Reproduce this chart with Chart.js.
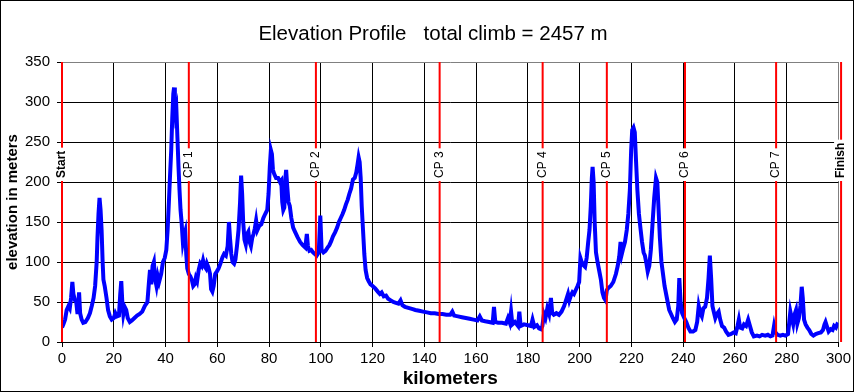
<!DOCTYPE html>
<html>
<head>
<meta charset="utf-8">
<script src="https://cdn.jsdelivr.net/npm/chart.js@4/dist/chart.umd.min.js"></script>
<style>
  body { margin: 0; background: #fff; }
</style>
</head>
<body>
<canvas id="profileChart" width="854" height="392"></canvas>
<script>
// distance along the route (km) and elevation (m)
const kms = [
  0, 0.5, 1.2, 1.8, 2.5, 3.0, 3.5, 4.0, 4.4, 5.0, 5.5, 6.0, 6.6, 7.0, 7.6, 8.2, 9.0, 10.0, 10.8, 11.5,
  12.2, 12.8, 13.4, 13.7, 14.1, 14.5, 14.9, 15.3, 15.7, 16.0, 16.5, 17.2, 17.8, 18.5, 19.2, 20.0, 20.6, 21.2, 22.0, 22.5,
  22.9, 23.3, 23.7, 24.2, 24.8, 25.4, 26.2, 27.0, 28.0, 29.0, 30.0, 31.0, 32.0, 33.0, 33.6, 34.0, 34.5, 35.0, 35.5, 35.9,
  36.5, 37.0, 37.5, 38.3, 39.0, 39.7, 40.3, 40.8, 41.3, 41.7, 42.2, 42.6, 43.0, 43.3, 43.6, 43.9, 44.2, 44.6, 45.0, 45.4,
  45.8, 46.2, 46.7, 47.1, 47.6, 48.0, 48.4, 49.0, 49.6, 50.2, 50.7, 51.2, 51.7, 52.2, 52.8, 53.4, 54.0, 54.5, 55.0, 55.6,
  56.0, 56.6, 57.2, 57.6, 58.1, 58.6, 59.2, 59.8, 60.5, 61.2, 62.0, 62.6, 63.3, 64.0, 64.5, 64.9, 65.4, 65.9, 66.5, 67.0,
  67.6, 68.2, 68.8, 69.2, 69.6, 70.0, 70.5, 71.0, 71.5, 72.0, 72.5, 73.0, 73.5, 74.0, 74.5, 75.0, 75.5, 76.2, 77.0, 77.8,
  78.5, 79.3, 79.8, 80.3, 80.7, 81.1, 81.5, 82.0, 82.7, 83.5, 84.2, 84.7, 85.1, 85.5, 85.9, 86.3, 86.6, 87.0, 87.5, 88.0,
  88.6, 89.3, 90.0, 91.0, 92.0, 93.0, 94.0, 94.6, 95.0, 95.6, 96.3, 97.0, 97.7, 98.4, 99.2, 99.8, 100.3, 101.0, 101.8, 102.6,
  103.3, 104.0, 104.7, 105.5, 106.3, 107.0, 107.7, 108.4, 109.0, 109.7, 110.4, 111.0, 111.7, 112.4, 113.1, 113.7, 114.2, 114.6, 115.0, 115.4,
  115.8, 116.3, 116.8, 117.3, 117.9, 118.5, 119.2, 120.0, 121.0, 122.0, 122.8, 123.5, 124.3, 125.2, 126.0, 127.0, 128.0, 129.0, 130.0, 130.8,
  131.5, 132.5, 133.5, 134.5, 135.5, 136.5, 138.0, 139.5, 141.0, 142.5, 144.0, 145.5, 147.0, 148.5, 150.0, 150.8, 151.5, 153.0, 154.5, 156.0,
  157.5, 159.0, 160.5, 161.4, 162.2, 163.5, 165.0, 166.4, 166.9, 167.4, 168.5, 170.0, 171.5, 172.3, 173.0, 173.5, 174.0, 175.0, 176.2, 176.7,
  177.2, 178.5, 180.0, 181.2, 181.8, 182.5, 183.5, 184.3, 185.0, 185.6, 186.2, 186.8, 187.5, 188.2, 188.9, 189.4, 190.0, 191.0, 192.0, 193.0,
  194.0, 195.0, 195.5, 196.0, 196.6, 197.2, 197.8, 198.5, 199.2, 199.8, 200.3, 200.8, 201.5, 202.1, 202.7, 203.3, 203.8, 204.3, 204.7, 205.0,
  205.4, 205.8, 206.3, 206.9, 207.5, 208.2, 208.8, 209.4, 210.0, 210.5, 211.2, 212.0, 213.0, 214.0, 214.7, 215.3, 215.8, 216.3, 216.9, 217.5,
  218.2, 218.8, 219.4, 219.9, 220.3, 220.8, 221.3, 221.8, 222.3, 222.9, 223.5, 224.1, 224.7, 225.2, 225.7, 226.3, 226.9, 227.5, 228.2, 228.8,
  229.5, 230.0, 230.5, 231.0, 231.6, 232.2, 232.8, 233.4, 234.0, 234.6, 235.3, 236.0, 236.8, 237.5, 238.1, 238.5, 239.0, 239.6, 240.4, 241.2,
  242.0, 242.8, 243.8, 244.7, 245.4, 246.0, 246.6, 247.2, 247.8, 248.5, 249.2, 249.8, 250.3, 250.8, 251.3, 251.8, 252.4, 253.0, 253.7, 254.3,
  255.0, 255.8, 256.6, 257.5, 258.5, 259.5, 260.3, 261.0, 261.5, 262.0, 262.8, 263.5, 264.3, 265.1, 265.8, 266.5, 267.3, 268.5, 269.5, 270.5,
  271.7, 272.7, 273.7, 274.5, 275.1, 275.6, 276.5, 277.5, 278.5, 279.5, 280.5, 281.0, 281.4, 281.9, 282.5, 283.1, 283.6, 284.1, 284.7, 285.3,
  285.8, 286.2, 286.7, 287.3, 288.0, 288.7, 289.5, 290.3, 291.2, 292.2, 293.2, 294.0, 294.6, 295.0, 295.5, 296.2, 297.0, 297.7, 298.3, 299.0,
  299.5, 300.0
];
const elevations = [
  18, 22, 28, 40, 45, 42, 55, 75, 60, 52, 50, 35, 62, 36, 28, 24, 25, 30, 36, 45,
  55, 70, 100, 130, 160, 180, 165, 140, 100, 78, 70, 55, 40, 32, 28, 30, 36, 32, 33, 60,
  76, 50, 35, 44, 40, 30, 25, 27, 30, 33, 35, 38, 45, 50, 75, 90, 72, 95, 100, 80,
  70, 82, 75, 85, 100, 105, 115, 140, 175, 205, 240, 280, 310, 318, 300, 285, 290, 255, 220, 190,
  165, 150, 125, 132, 138, 110, 92, 85, 82, 77, 70, 72, 80, 76, 90, 98, 95, 102, 95, 92,
  98, 93, 85, 66, 63, 70, 85, 88, 92, 98, 106, 110, 108, 120, 150, 130, 110, 100, 98, 103,
  120, 140, 175, 208, 185, 150, 128, 122, 135, 138, 125, 120, 130, 135, 142, 152, 140, 145, 147, 155,
  160, 165, 185, 220, 240, 235, 215, 210, 205, 205, 200, 202, 175, 165, 168, 205, 215, 195, 175, 170,
  155, 143, 138, 131, 125, 121, 118, 135, 120, 114, 115, 112, 110, 108, 112, 158, 115, 112, 114, 118,
  121, 126, 132, 137, 143, 150, 155, 160, 165, 172, 178, 185, 192, 203, 205, 212, 222, 231, 225, 205,
  170, 140, 110, 90, 80, 76, 72, 70, 67, 63, 60, 62, 57, 58, 54, 52, 50, 49, 48, 52,
  46, 44, 43, 42, 41, 40, 39, 38, 37, 36, 36, 35, 35, 34, 34, 38, 33, 32, 31, 30,
  29, 28, 27, 32, 27, 26, 25, 24, 44, 25, 24, 24, 23, 30, 24, 38, 22, 25, 20, 38,
  20, 22, 21, 20, 28, 19, 21, 17, 16, 20, 35, 30, 42, 35, 55, 36, 34, 36, 34, 38,
  45, 55, 60, 52, 58, 62, 60, 65, 70, 75, 105, 100, 96, 94, 105, 125, 140, 170, 205, 219,
  200, 150, 112, 100, 90, 78, 62, 55, 52, 65, 68, 70, 75, 85, 95, 107, 125, 110, 118, 125,
  140, 160, 190, 240, 265, 268, 262, 225, 190, 160, 142, 125, 112, 108, 100, 88, 95, 115, 150, 180,
  205, 200, 165, 130, 100, 85, 70, 60, 50, 40, 35, 30, 25, 28, 45, 80, 50, 36, 30, 25,
  18, 13, 13, 15, 25, 45, 36, 32, 42, 44, 55, 80, 108, 80, 45, 38, 30, 35, 38, 28,
  20, 18, 13, 9, 10, 12, 11, 20, 28, 18, 17, 22, 20, 28, 20, 12, 7, 8, 7, 9,
  8, 9, 7, 8, 20, 12, 9, 8, 9, 8, 10, 25, 38, 30, 22, 35, 40, 23, 30, 45,
  69, 55, 28, 22, 18, 15, 10, 8, 10, 11, 12, 15, 22, 25, 20, 13, 16, 15, 20, 18,
  22, 21
];

// checkpoints (red markers)
const cpKms = [0, 49, 98.1, 145.9, 185.7, 210.5, 240.7, 275.9, 301];
const cpNames = ['Start', 'CP 1', 'CP 2', 'CP 3', 'CP 4', 'CP 5', 'CP 6', 'CP 7', 'Finish'];

const titleText = 'Elevation Profile   total climb = 2457 m';
const fontFamily = "'Liberation Sans', Arial, sans-serif";

const checkpointPlugin = {
  id: 'checkpoints',
  afterDatasetsDraw(chart) {
    const { ctx, chartArea, scales } = chart;
    ctx.save();
    cpKms.forEach((km, i) => {
      const x = scales.x.getPixelForValue(km);
      ctx.strokeStyle = '#ff0000';
      ctx.lineWidth = 2;
      ctx.beginPath();
      ctx.moveTo(x, chartArea.top);
      ctx.lineTo(x, chartArea.bottom);
      ctx.stroke();

      const bold = i === 0 || i === cpNames.length - 1;
      ctx.font = (bold ? 'bold ' : '') + '12px ' + fontFamily;
      const w = ctx.measureText(cpNames[i]).width;
      const baseY = 178;
      ctx.fillStyle = '#ffffff';
      ctx.fillRect(x - 7, baseY - w - 3, 14, w + 6);
      ctx.translate(x, baseY);
      ctx.rotate(-Math.PI / 2);
      ctx.fillStyle = '#000000';
      ctx.textAlign = 'left';
      ctx.textBaseline = 'middle';
      ctx.fillText(cpNames[i], 0, 0);
      ctx.setTransform(1, 0, 0, 1, 0, 0);
    });
    ctx.restore();
  },
  afterDraw(chart) {
    const ctx = chart.ctx;
    ctx.save();
    // title, slightly left of the plot centre like the original
    ctx.fillStyle = '#000000';
    ctx.font = '20.5px ' + fontFamily;
    ctx.textAlign = 'center';
    ctx.textBaseline = 'middle';
    ctx.fillText(titleText, 433, 34);
    // outer frame
    ctx.strokeStyle = '#000000';
    ctx.lineWidth = 1;
    ctx.strokeRect(0.5, 0.5, chart.width - 1, chart.height - 1);
    ctx.restore();
  }
};

const bgPlugin = {
  id: 'bg',
  beforeDraw(chart) {
    const ctx = chart.ctx;
    ctx.save();
    ctx.fillStyle = '#ffffff';
    ctx.fillRect(0, 0, chart.width, chart.height);
    ctx.restore();
  }
};

new Chart(document.getElementById('profileChart'), {
  type: 'line',
  data: {
    datasets: [{
      data: kms.map((km, i) => ({ x: km, y: elevations[i] })),
      borderColor: '#0000ff',
      borderWidth: 4,
      pointRadius: 0,
      tension: 0,
      fill: false
    }]
  },
  options: {
    responsive: false,
    animation: false,
    devicePixelRatio: 1,
    layout: { padding: { left: 0, right: 15, top: 62, bottom: 0 } },
    plugins: {
      legend: { display: false },
      tooltip: { enabled: false },
      title: { display: false }
    },
    scales: {
      x: {
        type: 'linear',
        min: 0,
        max: 300,
        afterFit(scale) { scale.height = 50; },
        border: { color: '#000000', width: 1 },
        grid: {
          color: ctx => ctx.tick && ctx.tick.value === 300 ? '#808080' : '#000000',
          tickColor: '#000000',
          tickLength: 5
        },
        ticks: {
          stepSize: 20,
          maxRotation: 0,
          padding: 3,
          color: '#000000',
          font: { family: fontFamily, size: 15 }
        },
        title: {
          display: true,
          text: 'kilometers',
          color: '#000000',
          font: { family: fontFamily, size: 19, weight: 'bold' },
          padding: { bottom: 2 }
        }
      },
      y: {
        min: 0,
        max: 350,
        afterFit(scale) { scale.width = 62; },
        border: { color: '#000000', width: 1 },
        grid: {
          color: ctx => ctx.tick && ctx.tick.value === 350 ? '#808080' : '#000000',
          tickColor: '#000000',
          tickLength: 5
        },
        ticks: {
          stepSize: 50,
          padding: 7,
          color: '#000000',
          font: { family: fontFamily, size: 15 }
        },
        title: {
          display: true,
          text: 'elevation in meters',
          color: '#000000',
          font: { family: fontFamily, size: 15, weight: 'bold' },
          padding: { top: 4 }
        }
      }
    }
  },
  plugins: [bgPlugin, checkpointPlugin]
});
</script>
</body>
</html>
